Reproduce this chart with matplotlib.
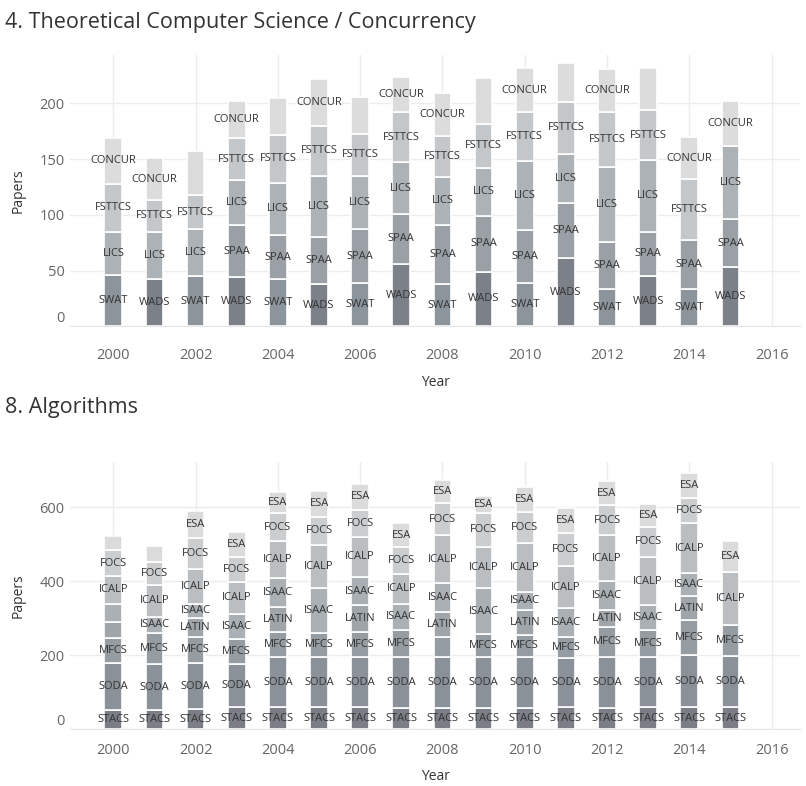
import numpy as np
import matplotlib
matplotlib.use("Agg")
import matplotlib.pyplot as plt

plt.rcParams['font.family'] = ['Open Sans', 'DejaVu Sans']

# --- datos: 4. Theoretical Computer Science / Concurrency ---
years = list(range(2000, 2016))
tcs_venues = ['SWAT/WADS', 'SPAA', 'LICS', 'FSTTCS', 'CONCUR']
tcs_base_name = ['SWAT', 'WADS', 'SWAT', 'WADS', 'SWAT', 'WADS', 'SWAT', 'WADS',
                 'SWAT', 'WADS', 'SWAT', 'WADS', 'SWAT', 'WADS', 'SWAT', 'WADS']
tcs_base = [46, 42, 45, 44, 42, 38, 39, 56, 38, 49, 39, 61, 33, 45, 33, 53]
tcs_spaa = [0, 0, 0, 47, 40, 42, 48, 45, 53, 50, 47, 50, 43, 40, 44, 43]
tcs_lics = [39, 43, 42, 40, 47, 55, 48, 46, 43, 43, 62, 44, 67, 64, 0, 66]
tcs_fsttcs = [43, 28, 31, 38, 43, 45, 38, 45, 37, 40, 44, 46, 49, 45, 55, 0]
tcs_concur = [41, 38, 39, 33, 33, 42, 33, 32, 38, 41, 40, 35, 39, 38, 38, 40]
tcs_hidden = [(2002, 'CONCUR'), (2004, 'CONCUR'), (2006, 'CONCUR'),
              (2009, 'CONCUR'), (2011, 'CONCUR'), (2013, 'CONCUR')]

# --- datos: 8. Algorithms ---
alg_venues = ['STACS', 'SODA', 'MFCS', 'LATIN', 'ISAAC', 'ICALP', 'FOCS', 'ESA']
alg_stacs = [52, 52, 54, 61, 60, 60, 60, 57, 57, 57, 57, 60, 57, 60, 60, 61]
alg_soda = [128, 124, 126, 115, 136, 136, 136, 139, 139, 139, 139, 132, 139, 136, 141, 137]
alg_mfcs = [66, 84, 70, 67, 68, 65, 68, 72, 54, 61, 59, 58, 82, 72, 95, 84]
alg_latin = [45, 0, 50, 0, 66, 0, 72, 0, 68, 0, 67, 0, 45, 0, 64, 0]
alg_isaac = [49, 45, 40, 69, 78, 120, 75, 72, 77, 124, 50, 77, 77, 68, 62, 0]
alg_icalp = [74, 86, 93, 87, 101, 117, 110, 81, 130, 111, 131, 114, 126, 129, 135, 144]
alg_focs = [71, 60, 83, 66, 75, 77, 72, 71, 86, 94, 85, 90, 79, 83, 67, 0]
alg_esa = [38, 45, 74, 67, 58, 70, 70, 65, 63, 45, 68, 66, 65, 60, 68, 83]
alg_hidden = [(2000, 'ESA'), (2000, 'ISAAC'), (2000, 'LATIN'), (2001, 'ESA'),
              (2008, 'MFCS')]

colores = {'SWAT': '#8d959c', 'WADS': '#7c8189', 'SPAA': '#9aa0a5',
           'LICS': '#adb2b6', 'FSTTCS': '#c4c7ca', 'CONCUR': '#dcdcdd',
           'STACS': '#7b7e87', 'SODA': '#8b9198', 'MFCS': '#959ca2',
           'LATIN': '#a0a5aa', 'ISAAC': '#aab0b3', 'ICALP': '#babec1',
           'FOCS': '#cbcdcf', 'ESA': '#dbdbdc'}


def dibujar_apilado(ax, series, nombres, ocultos):
    """Dibuja barras apiladas con etiqueta en cada segmento."""
    base = np.zeros(len(years))
    for serie, nombre in zip(series, nombres):
        vals = np.array(serie, dtype=float)
        for i, y in enumerate(years):
            if vals[i] <= 0:
                continue
            etiqueta = nombre[i] if isinstance(nombre, list) else nombre
            ax.bar(y, vals[i], bottom=base[i], width=0.43,
                   color=colores[etiqueta], edgecolor='white', linewidth=1.2,
                   zorder=2)
            if (y, etiqueta) not in ocultos:
                ax.text(y, base[i] + vals[i] / 2, etiqueta, ha='center',
                        va='center', fontsize=8, color='#333333', zorder=3)
        base += vals


def estilo(ax, ymax, yticks, xpad):
    ax.set_xlim(1998.95, 2016.7)
    ax.set_ylim(0, ymax)
    ax.set_xticks(range(2000, 2017, 2))
    ax.set_yticks(yticks)
    ax.grid(True, color='#ececec', linewidth=1, zorder=0)
    for s in ['top', 'right', 'left']:
        ax.spines[s].set_visible(False)
    ax.spines['bottom'].set_color('#e6e6e6')
    ax.tick_params(length=0, labelsize=10.5, labelcolor='#666666')
    ax.tick_params(axis='x', pad=xpad)
    ax.tick_params(axis='y', pad=4)
    ax.set_ylabel('Papers', fontsize=10, color='#333333', labelpad=10)
    ax.set_xlabel('Year', fontsize=10, color='#333333', labelpad=8)
    # la etiqueta del 0 queda por encima de la línea base, como en Tableau
    ax.get_yticklabels()[0].set_va('bottom')


fig = plt.figure(figsize=(8.06, 7.86), dpi=100)

ax1 = fig.add_axes([0.087, 0.585, 0.906, 0.345])
dibujar_apilado(ax1, [tcs_base, tcs_spaa, tcs_lics, tcs_fsttcs, tcs_concur],
                [tcs_base_name, 'SPAA', 'LICS', 'FSTTCS', 'CONCUR'], tcs_hidden)
estilo(ax1, 243.5, [0, 50, 100, 150, 200], 16)
fig.text(0.006, 0.972, '4. Theoretical Computer Science / Concurrency',
         fontsize=15.5, color='#333333', va='center', ha='left')

ax2 = fig.add_axes([0.087, 0.072, 0.906, 0.340])
dibujar_apilado(ax2, [alg_stacs, alg_soda, alg_mfcs, alg_latin, alg_isaac,
                      alg_icalp, alg_focs, alg_esa], alg_venues, alg_hidden)
estilo(ax2, 722, [0, 200, 400, 600], 10)
fig.text(0.006, 0.482, '8. Algorithms', fontsize=15.5, color='#333333',
         va='center', ha='left')

plt.savefig('out.png', dpi=100)
